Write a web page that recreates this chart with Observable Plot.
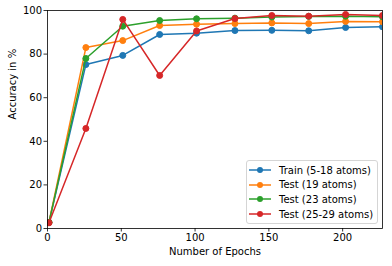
<!DOCTYPE html>
<html>
<head>
<meta charset="utf-8">
<script src="https://cdn.jsdelivr.net/npm/d3@7"></script>
<script src="https://cdn.jsdelivr.net/npm/@observablehq/plot@0.6"></script>
<style>
  html, body { margin: 0; padding: 0; background: #fff; }
  #wrap { position: relative; width: 392px; height: 266px; font-family: "DejaVu Sans", sans-serif; }
  #legend { position: absolute; box-sizing: border-box; background: rgba(255,255,255,0.8);
    border: 1px solid #d5d5d5; border-radius: 3px; font-size: 10px; color: #000; }
  .row { position: absolute; left: 0; height: 14px; display: flex; align-items: center; white-space: nowrap; }
  .row svg { margin-left: 2px; }
  .row span { margin-left: 8px; }
</style>
</head>
<body>
<div id="wrap"></div>
<script>
const epochs = [1, 26, 51, 76, 101, 127, 152, 177, 202, 227];
const seriesNames = ["Train (5-18 atoms)", "Test (19 atoms)", "Test (23 atoms)", "Test (25-29 atoms)"];
const colors = ["#1f77b4", "#ff7f0e", "#2ca02c", "#d62728"];
const train = [2.8, 75.2, 79.4, 89.0, 89.6, 90.8, 90.9, 90.7, 92.2, 92.5];
const test19 = [2.8, 83.0, 86.2, 93.1, 93.7, 94.0, 94.3, 94.0, 95.0, 94.8];
const test23 = [2.8, 78.0, 92.8, 95.4, 96.2, 96.5, 97.0, 97.3, 97.4, 97.1];
const test2529 = [2.6, 45.9, 95.9, 70.2, 90.6, 96.3, 97.7, 97.4, 98.2, 97.7];
const xTicks = [0, 50, 100, 150, 200];
const yTicks = [0, 20, 40, 60, 80, 100];

const allSeries = [train, test19, test23, test2529];
const marks = [];
allSeries.forEach((vals, i) => {
  const data = epochs.map((e, j) => ({x: e, y: vals[j]}));
  marks.push(Plot.line(data, {x: "x", y: "y", stroke: colors[i], strokeWidth: 1.5, clip: true}));
  marks.push(Plot.dot(data, {x: "x", y: "y", r: 3, fill: colors[i], stroke: colors[i], strokeWidth: 1, clip: true}));
});

const W = 392, H = 266;
const chart = Plot.plot({
  width: W, height: H,
  marginLeft: 47, marginRight: 10, marginTop: 10, marginBottom: 38,
  style: {fontFamily: "DejaVu Sans, sans-serif", fontSize: "10px", color: "#000", background: "#fff"},
  x: {domain: [0, 227]},
  y: {domain: [0, 100]},
  marks: [
    Plot.axisX({ticks: xTicks, tickSize: 3.5, tickPadding: 2, label: null, fontSize: 10, stroke: "#000", strokeWidth: 0.8}),
    Plot.axisY({ticks: yTicks, tickSize: 3.5, tickPadding: 2, label: null, fontSize: 10, stroke: "#000", strokeWidth: 0.8}),
    ...marks,
    Plot.frame({stroke: "#000", strokeWidth: 0.8}),
    Plot.text(["Number of Epochs"], {frameAnchor: "bottom", dy: 26, text: d => d, fontSize: 10}),
    Plot.text(["Accuracy in %"], {frameAnchor: "left", dx: -35, rotate: -90, text: d => d, fontSize: 10})
  ]
});
const wrap = document.getElementById("wrap");
wrap.appendChild(chart);

// legend
const legend = document.createElement("div");
legend.id = "legend";
legend.style.left = "246px";
legend.style.top = "160px";
legend.style.width = "132px";
legend.style.height = "64px";
seriesNames.forEach((name, i) => {
  const row = document.createElement("div");
  row.className = "row";
  row.style.top = (2 + i * 14.7) + "px";
  row.innerHTML = `<svg width="22" height="10"><line x1="0" y1="5" x2="22" y2="5" stroke="${colors[i]}" stroke-width="1.5"/><circle cx="11" cy="5" r="3" fill="${colors[i]}"/></svg><span>${name}</span>`;
  legend.appendChild(row);
});
wrap.appendChild(legend);
</script>
</body>
</html>
